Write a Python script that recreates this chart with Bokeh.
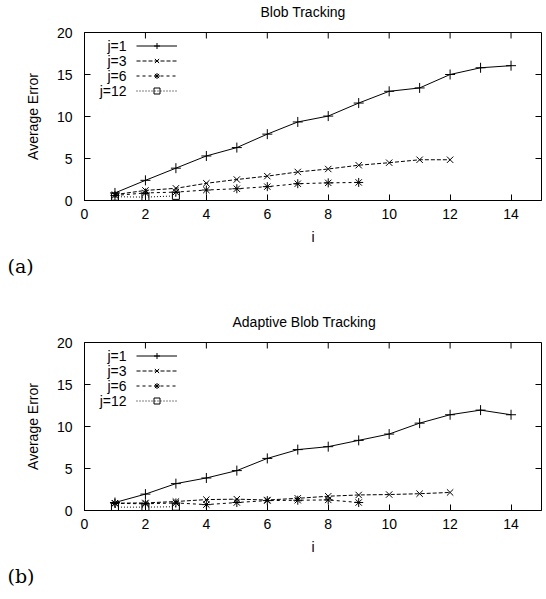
import math
from bokeh.plotting import figure
from bokeh.models import (Range1d, Legend, LegendItem, FixedTicker, Title, Label)
from bokeh.layouts import column
from bokeh.embed import file_html
from bokeh.resources import INLINE

# ---- data ----
i_j1 = list(range(1, 15))
i_j3 = list(range(1, 13))
i_j6 = list(range(1, 10))
i_j12 = [1, 2, 3]

blob_j1 = [0.9, 2.4, 3.85, 5.3, 6.3, 7.9, 9.35, 10.05, 11.6, 13.0, 13.4, 15.0, 15.8, 16.05]
blob_j3 = [0.7, 1.2, 1.45, 2.05, 2.5, 2.9, 3.4, 3.75, 4.2, 4.5, 4.85, 4.85]
blob_j6 = [0.6, 0.9, 1.0, 1.25, 1.4, 1.65, 2.0, 2.1, 2.15]
blob_j12 = [0.45, 0.4, 0.55]

adapt_j1 = [0.95, 1.95, 3.2, 3.87, 4.75, 6.2, 7.25, 7.6, 8.35, 9.1, 10.4, 11.4, 11.95, 11.4]
adapt_j3 = [0.87, 0.9, 1.07, 1.3, 1.35, 1.25, 1.45, 1.7, 1.85, 1.9, 2.0, 2.15]
adapt_j6 = [0.85, 0.8, 0.9, 0.7, 0.95, 1.18, 1.22, 1.26, 0.95]
adapt_j12 = [0.4, 0.4, 0.45]

series_labels = ["j=1", "j=3", "j=6", "j=12"]
x_ticks = [0, 2, 4, 6, 8, 10, 12, 14]
y_ticks = [0, 5, 10, 15, 20]
x_max = 15
y_max = 20

# ---- styles ----
SANS = "Liberation Sans"
FS = "14px"
styles = [
    dict(dash="solid", marker="cross", size=10),
    dict(dash="4 2", marker="x", size=9),
    dict(dash="3 3", marker="asterisk", size=9),
    dict(dash="1 2", marker="square", size=7),
]


def style_axis(ax):
    ax.major_tick_in = 6
    ax.major_tick_out = 0
    ax.minor_tick_line_color = None
    ax.axis_line_color = "black"
    ax.major_tick_line_color = "black"
    ax.major_label_text_font = SANS
    ax.major_label_text_font_size = FS
    ax.major_label_text_color = "black"
    ax.axis_label_text_font = SANS
    ax.axis_label_text_font_style = "normal"
    ax.axis_label_text_font_size = FS
    ax.axis_label_text_color = "black"


def make_fig(title, xs, ys, tag, top_border, bottom_border, title_offset):
    p = figure(frame_width=457, frame_height=168,
               min_border_left=84, min_border_right=5,
               min_border_top=top_border, min_border_bottom=bottom_border,
               x_range=Range1d(0, x_max), y_range=Range1d(0, y_max),
               x_axis_label="i", y_axis_label="Average Error",
               output_backend="svg", toolbar_location=None)
    p.grid.visible = False
    p.outline_line_color = "black"
    p.outline_line_alpha = 1
    p.background_fill_color = "white"
    p.border_fill_color = "white"

    p.xaxis.ticker = FixedTicker(ticks=x_ticks)
    p.yaxis.ticker = FixedTicker(ticks=y_ticks)
    for ax in p.xaxis:
        style_axis(ax)
        ax.major_label_standoff = 8
        ax.axis_label_standoff = 7
    for ax in p.yaxis:
        style_axis(ax)
        ax.major_label_standoff = 12
        ax.axis_label_standoff = 13

    # thin spacer panel between frame and title, then the title itself
    p.add_layout(Title(text=" ", text_font_size="1px", standoff=9), "above")
    p.add_layout(Title(text=title, align="left", offset=title_offset,
                       vertical_align="bottom", standoff=2,
                       text_font=SANS, text_font_size=FS,
                       text_font_style="normal", text_color="black"), "above")

    # mirrored inward ticks on the top and right borders
    p.ray(x=x_ticks, y=[y_max] * len(x_ticks), length=6, length_units="screen",
          angle=-math.pi / 2, line_color="black", line_width=1)
    p.ray(x=[x_max] * len(y_ticks), y=y_ticks, length=6, length_units="screen",
          angle=math.pi, line_color="black", line_width=1)

    items = []
    for x, y, st in zip(xs, ys, styles):
        rl = p.line(x, y, line_color="black", line_width=1, line_dash=st["dash"])
        rm = p.scatter(x, y, marker=st["marker"], size=st["size"],
                       line_color="black", fill_color=None, line_width=1)
        items.append(LegendItem(label=" ", renderers=[rl, rm]))

    leg_x, leg_y, row_h = 52, 102, 15
    legend = Legend(items=items, location=(leg_x, leg_y),
                    glyph_width=41, glyph_height=row_h, label_height=row_h,
                    label_width=0, label_standoff=0, spacing=0, padding=0,
                    margin=0, border_line_color=None, background_fill_alpha=0,
                    label_text_font_size="1px")
    p.add_layout(legend)
    n = len(series_labels)
    for k, lab in enumerate(series_labels):
        p.add_layout(Label(x=leg_x - 10, y=leg_y + (n - k - 0.5) * row_h,
                           x_units="screen", y_units="screen", text=lab,
                           text_align="right", text_baseline="middle",
                           text_font=SANS, text_font_size=FS, text_color="black"))

    p.add_layout(Title(text=tag, align="left", offset=-77,
                       text_font="DejaVu Serif", text_font_size="19px",
                       text_font_style="normal", text_color="black",
                       standoff=10), "below")
    return p


p1 = make_fig("Blob Tracking",
              [i_j1, i_j3, i_j6, i_j12],
              [blob_j1, blob_j3, blob_j6, blob_j12],
              "(a)", 32, 100, 176)
p2 = make_fig("Adaptive Blob Tracking",
              [i_j1, i_j3, i_j6, i_j12],
              [adapt_j1, adapt_j3, adapt_j6, adapt_j12],
              "(b)", 42, 89, 148)

layout = column(p1, p2, spacing=0)
open("out.html", "w").write(file_html(layout, INLINE))
